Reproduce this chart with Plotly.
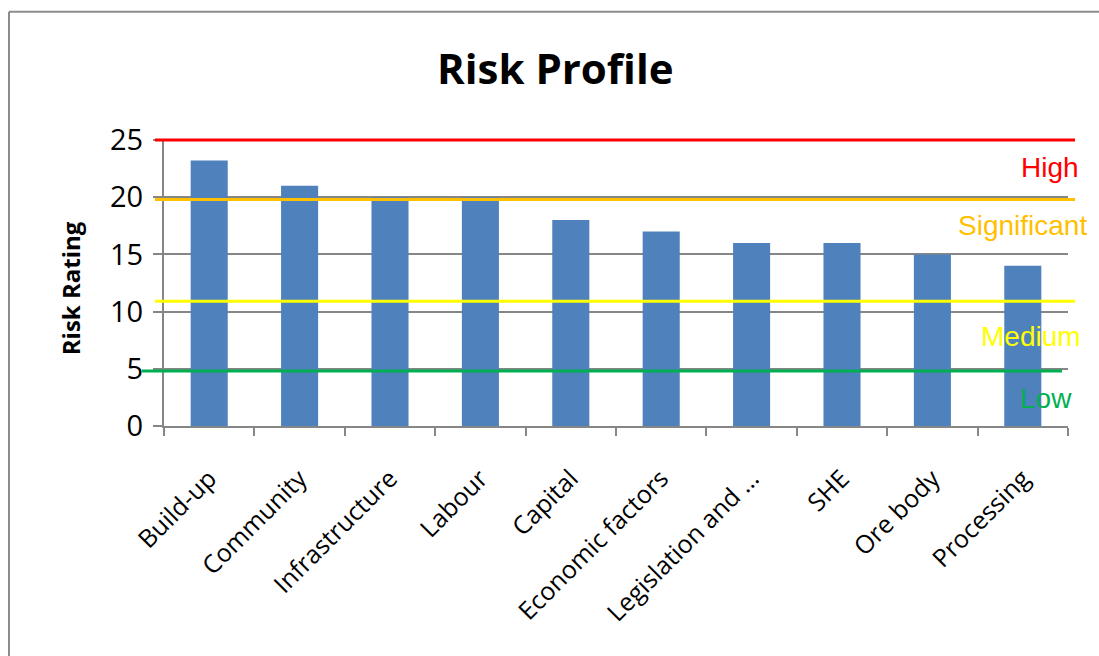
import plotly.graph_objects as go

# Risk categories and their ratings
categories = ["Build-up", "Community", "Infrastructure", "Labour", "Capital",
              "Economic factors", "Legislation and …", "SHE", "Ore body", "Processing"]
ratings = [23.2, 21, 20, 20, 18, 17, 16, 16, 15, 14]

# Risk band thresholds and their labels
band_names = ["High", "Significant", "Medium", "Low"]
band_levels = [25, 19.8, 10.9, 4.8]
band_label_y = [22.6, 17.5, 7.8, 2.4]
band_colors = ["#FF0000", "#FFC000", "#FFFF00", "#00B050"]

Y_MAX = 25
W, H = 1099, 656
L, R, T, B = 164, 1068, 139.5, 426  # plot area in pixels


def px_x(px):
    return (px - L) / (R - L)


def px_y(py):
    return (B - py) / (B - T)


GRAY = "#868686"

fig = go.Figure(go.Bar(
    x=categories, y=ratings,
    marker=dict(color="#4F81BD", line=dict(width=0)),
    hoverinfo="x+y",
))

shapes = []
# threshold lines across the plot (placed in paper space so the top one is not clipped)
line_extent = {
    "Low": (141.7, 1062),
}
for name, lvl, col in zip(band_names, band_levels, band_colors):
    x0, x1 = line_extent.get(name, (155, 1075))
    yp = lvl / Y_MAX
    shapes.append(dict(type="line", xref="paper", yref="paper",
                       x0=px_x(x0), x1=px_x(x1), y0=yp, y1=yp,
                       line=dict(color=col, width=3), layer="above"))

# chart-area border (top and left edges)
shapes.append(dict(type="line", xref="paper", yref="paper",
                   x0=px_x(9), x1=px_x(W + 5), y0=px_y(11), y1=px_y(11),
                   line=dict(color="#8C8C8C", width=2)))
shapes.append(dict(type="line", xref="paper", yref="paper",
                   x0=px_x(9), x1=px_x(9), y0=px_y(11), y1=px_y(H + 5),
                   line=dict(color="#8C8C8C", width=2)))

annotations = []
band_label_right = [1081, 1089, 1083, 1074]
for name, ly, col, rx in zip(band_names, band_label_y, band_colors, band_label_right):
    annotations.append(dict(text=name, xref="paper", yref="y",
                            x=px_x(rx), y=ly, xanchor="right", yanchor="middle",
                            showarrow=False,
                            font=dict(family="Liberation Sans", size=28, color=col)))

annotations.append(dict(text="<b>Risk Profile</b>", xref="paper", yref="paper",
                        x=px_x(555), y=px_y(67), xanchor="center", yanchor="middle",
                        showarrow=False,
                        font=dict(family="Open Sans", size=42, color="#000000")))
annotations.append(dict(text="<b>Risk Rating</b>", xref="paper", yref="paper",
                        x=px_x(70), y=px_y(288), xanchor="center", yanchor="middle",
                        textangle=-90, showarrow=False,
                        font=dict(family="Open Sans", size=24, color="#000000")))

fig.update_layout(
    width=W, height=H,
    margin=dict(l=L, r=W - R, t=T, b=H - B, pad=0),
    paper_bgcolor="white", plot_bgcolor="white",
    showlegend=False,
    bargap=0.59,
    shapes=shapes,
    annotations=annotations,
    xaxis=dict(
        type="category",
        showline=True, linecolor=GRAY, linewidth=2,
        ticks="outside", ticklen=8, tickcolor=GRAY, tickwidth=2,
        tickson="boundaries",
        tickangle=-45,
        tickfont=dict(family="Open Sans", size=25, color="#000000"),
        ticklabelstandoff=26,
        showgrid=False,
    ),
    yaxis=dict(
        range=[0, Y_MAX],
        tickvals=[0, 5, 10, 15, 20, 25],
        showline=True, linecolor=GRAY, linewidth=2,
        ticks="outside", ticklen=9, tickcolor=GRAY, tickwidth=2,
        tickfont=dict(family="Open Sans", size=29, color="#000000"),
        ticklabelstandoff=4,
        showgrid=True, gridcolor=GRAY, gridwidth=2,
        zeroline=False,
    ),
)

fig.write_html("out.html")
